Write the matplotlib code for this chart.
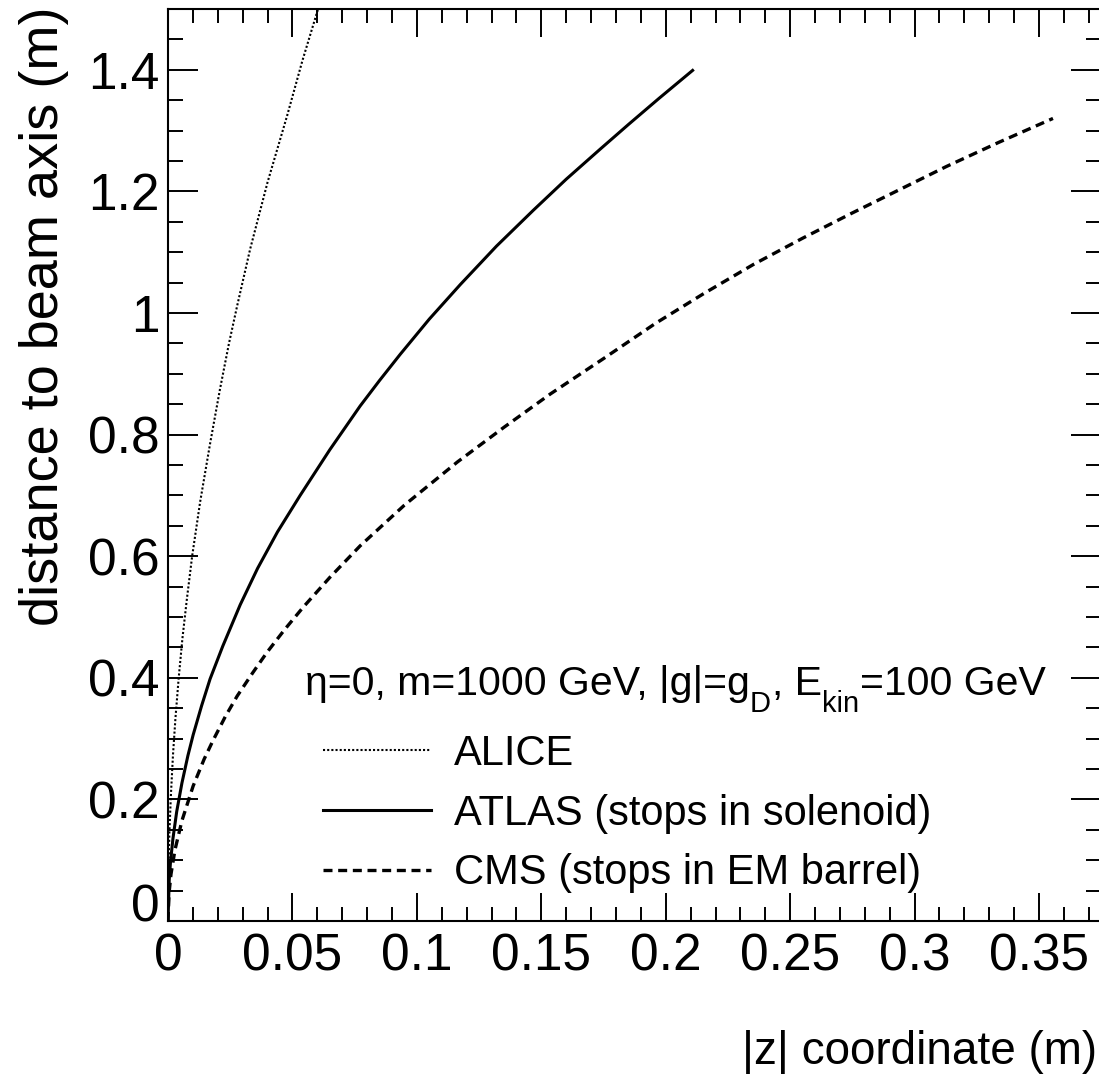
import matplotlib
matplotlib.use("Agg")
import matplotlib.pyplot as plt
from matplotlib.ticker import MultipleLocator, FixedLocator, FixedFormatter

plt.rcParams['font.family'] = ['Liberation Sans', 'DejaVu Sans']

# ---- data (|z| in m, r in m) ----
alice_z = [0.0, 0.0002, 0.0006, 0.0012, 0.0020, 0.0030, 0.0043, 0.0058, 0.0076,
           0.0097, 0.0129, 0.0169, 0.0209, 0.0245, 0.0278, 0.0330, 0.0400,
           0.0479, 0.0540, 0.0603]
alice_r = [0.0, 0.086, 0.150, 0.210, 0.273, 0.334, 0.400, 0.465, 0.530,
           0.600, 0.689, 0.785, 0.875, 0.950, 1.012, 1.105, 1.215,
           1.325, 1.415, 1.500]

atlas_z = [0.0, 0.0005, 0.0010, 0.0020, 0.0035, 0.0056, 0.0080, 0.0101, 0.0135,
           0.0169, 0.0220, 0.0290, 0.0360, 0.0440, 0.0531, 0.0650, 0.0772,
           0.0850, 0.0933, 0.1050, 0.1175, 0.1320, 0.1468, 0.1600, 0.1738,
           0.1850, 0.1973, 0.2108]
atlas_r = [0.0, 0.068, 0.097, 0.136, 0.180, 0.227, 0.272, 0.306, 0.354,
           0.398, 0.452, 0.520, 0.580, 0.640, 0.700, 0.775, 0.847,
           0.889, 0.932, 0.990, 1.047, 1.110, 1.169, 1.220, 1.270,
           1.310, 1.353, 1.399]

cms_z = [0.0, 0.0004, 0.0012, 0.0028, 0.0056, 0.0101, 0.0145, 0.0181, 0.0230,
         0.0278, 0.0340, 0.0398, 0.0470, 0.0543, 0.0650, 0.0772, 0.0950,
         0.1163, 0.1350, 0.1537, 0.1750, 0.1959, 0.2153, 0.2353, 0.2550,
         0.2747, 0.2940, 0.3128, 0.3340, 0.3556]
cms_r = [0.0, 0.045, 0.077, 0.117, 0.165, 0.222, 0.266, 0.297, 0.336,
         0.370, 0.408, 0.442, 0.480, 0.516, 0.565, 0.617, 0.684,
         0.755, 0.812, 0.867, 0.925, 0.983, 1.032, 1.080, 1.123,
         1.164, 1.203, 1.241, 1.281, 1.320]

series_labels = ["ALICE", "ATLAS (stops in solenoid)", "CMS (stops in EM barrel)"]
# header pieces: (text, is_subscript)
header_pieces = [("\u03b7=0, m=1000 GeV, |g|=g", False), ("D", True),
                 (", E", False), ("kin", True), ("=100 GeV", False)]

x_ticks = [0.0, 0.05, 0.10, 0.15, 0.20, 0.25, 0.30, 0.35]
x_tick_labels = ["0", "0.05", "0.1", "0.15", "0.2", "0.25", "0.3", "0.35"]
y_ticks = [0.0, 0.2, 0.4, 0.6, 0.8, 1.0, 1.2, 1.4]
y_tick_labels = ["0", "0.2", "0.4", "0.6", "0.8", "1", "1.2", "1.4"]
x_label = "|z| coordinate (m)"
y_label = "distance to beam axis (m)"

# ---- figure ----
W, H = 1099, 1077
fig = plt.figure(figsize=(W / 100, H / 100), dpi=100)
L, R, T, B = 168, 1100.5, 9, 921
ax = fig.add_axes([L / W, 1 - B / H, (R - L) / W, (B - T) / H])

ax.plot(alice_z, alice_r, color='black', lw=1.5, linestyle=(0, (1.0, 1.0)),
        label=series_labels[0])
ax.plot(atlas_z, atlas_r, color='black', lw=2.2, linestyle='-',
        label=series_labels[1])
ax.plot(cms_z, cms_r, color='black', lw=2.4, linestyle=(0, (2.7, 1.7)),
        label=series_labels[2])

ax.set_xlim(0, 0.3747)
ax.set_ylim(0, 1.5)

ax.xaxis.set_major_locator(FixedLocator(x_ticks))
ax.xaxis.set_major_formatter(FixedFormatter(x_tick_labels))
ax.yaxis.set_major_locator(FixedLocator(y_ticks))
ax.yaxis.set_major_formatter(FixedFormatter(y_tick_labels))
ax.xaxis.set_minor_locator(MultipleLocator(0.01))
ax.yaxis.set_minor_locator(MultipleLocator(0.05))

for s in ax.spines.values():
    s.set_linewidth(1.5)

ax.tick_params(which='both', direction='in', top=True, right=True, width=1.4,
               color='black')
ax.tick_params(axis='x', which='major', length=20, labelsize=37, pad=8)
ax.tick_params(axis='x', which='minor', length=10)
ax.tick_params(axis='y', which='major', length=21.5, labelsize=37, pad=6)
ax.tick_params(axis='y', which='minor', length=11)

# zero label on the y axis sits on the axis line
ax.yaxis.get_major_ticks()[0].label1.set_va('baseline')

# axis titles at the end of each axis
fig.text(1097 / W, 1 - 1064 / H, x_label, fontsize=33, ha='right', va='baseline')
fig.text(58 / W, 1 - 7 / H, y_label, fontsize=39, ha='right', va='baseline',
         rotation=90, rotation_mode='anchor')

# header line (ROOT-style subscripts built from text pieces)
renderer = fig.canvas.get_renderer()
hx, hbase = 305.0, 695.0
for txt, sub in header_pieces:
    size = 21 if sub else 29.5
    yb = hbase + (17 if sub else 0)
    t = fig.text(hx / W, 1 - yb / H, txt, fontsize=size, ha='left', va='baseline')
    hx += t.get_window_extent(renderer).width + (1 if sub else 0)

# legend
leg = ax.legend(loc='upper left', bbox_to_anchor=((323 - L) / (R - L), (B - 734) / (B - T)),
                frameon=False, fontsize=30, handlelength=2.6, handletextpad=0.55,
                labelspacing=0.47, borderpad=0, borderaxespad=0)

fig.savefig("out.png", dpi=100)
